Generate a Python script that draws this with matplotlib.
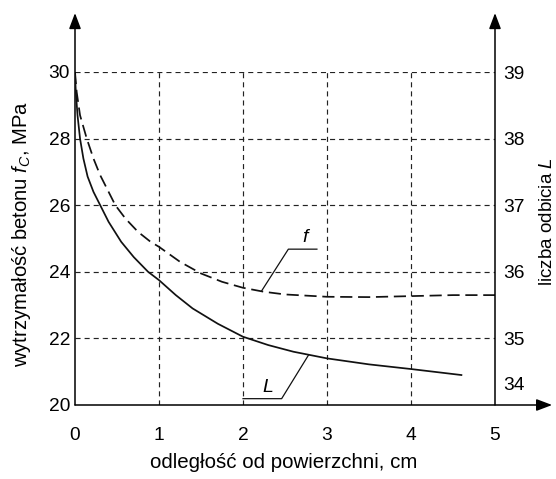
import numpy as np
import matplotlib.pyplot as plt

plt.rcParams['font.family'] = ['Liberation Sans', 'DejaVu Sans']
plt.rcParams['mathtext.fontset'] = 'custom'
plt.rcParams['mathtext.rm'] = 'Liberation Sans'
plt.rcParams['mathtext.it'] = 'Liberation Sans:italic'

# krzywa f - wytrzymałość betonu [MPa] (oś lewa)
x_f = [0.0, 0.02, 0.06, 0.14, 0.22, 0.3, 0.4, 0.48, 0.6, 0.75, 0.9, 1.0, 1.25, 1.5,
       1.75, 2.0, 2.25, 2.5, 3.0, 3.5, 4.0, 4.5, 5.0]
f_val = [30.0, 29.4, 28.7, 28.0, 27.4, 26.9, 26.4, 26.0, 25.6, 25.2, 24.9, 24.75, 24.3, 23.95,
         23.7, 23.52, 23.4, 23.32, 23.25, 23.24, 23.27, 23.3, 23.3]

# krzywa L - liczba odbicia (oś prawa)
x_L = [0.0, 0.01, 0.03, 0.06, 0.1, 0.15, 0.22, 0.3, 0.4, 0.55, 0.7, 0.87, 1.0, 1.2, 1.4,
       1.7, 2.0, 2.3, 2.6, 3.0, 3.5, 4.0, 4.6]
L_val = [38.95, 38.7, 38.35, 38.0, 37.7, 37.43, 37.2, 37.0, 36.75, 36.45, 36.22, 36.0, 35.875,
         35.65, 35.45, 35.22, 35.025, 34.9, 34.8, 34.7, 34.61, 34.54, 34.45]

x_ticks = [0, 1, 2, 3, 4, 5]
f_ticks = [20, 22, 24, 26, 28, 30]
L_ticks = [34.33, 35, 36, 37, 38, 39]
L_tick_labels = ['34', '35', '36', '37', '38', '39']

fig = plt.figure(figsize=(5.56, 4.79), dpi=100)
ax = fig.add_axes([75/556, 74/479, 420/556, 333/479])
ax.set_xlim(0, 5)
ax.set_ylim(20, 30)
ax2 = ax.twinx()
ax2.set_ylim(34, 39)

for a in (ax, ax2):
    for s in a.spines.values():
        s.set_visible(False)

# siatka
grid_kw = dict(color='#222222', linewidth=0.85, linestyle=(0, (4.3, 3.4)))
for yv in f_ticks[1:]:
    ax.plot([0, 5], [yv, yv], **grid_kw)
for xv in x_ticks[1:-1]:
    ax.plot([xv, xv], [20, 30], **grid_kw)

ax.plot(x_f, f_val, color='#111111', linewidth=1.25, linestyle=(0, (7, 3.3)))
ax2.plot(x_L, L_val, color='#111111', linewidth=1.25)

# opisy krzywych
ax.plot([2.22, 2.54, 2.88], [23.42, 24.68, 24.68], color='#111111', linewidth=0.9)
ax.text(2.74, 25.02, 'f', style='italic', fontsize=14, ha='center', va='center')
ax.plot([2.0, 2.46, 2.78], [20.19, 20.19, 21.5], color='#111111', linewidth=0.9)
ax.text(2.29, 20.52, 'L', style='italic', fontsize=14, ha='center', va='center')

# osie ze strzałkami
arr = dict(arrowstyle='-|>,head_length=0.95,head_width=0.36', color='black',
           linewidth=1.1, mutation_scale=10, shrinkA=0, shrinkB=0)
ax.annotate('', xy=(0, 1.177), xytext=(0, 0), xycoords='axes fraction', arrowprops=arr)
ax.annotate('', xy=(1, 1.177), xytext=(1, 0), xycoords='axes fraction', arrowprops=arr)
ax.annotate('', xy=(1.136, 0), xytext=(0, 0), xycoords='axes fraction', arrowprops=arr)

ax.set_xticks(x_ticks)
ax.set_yticks(f_ticks)
ax.tick_params(axis='x', length=0, pad=16, labelsize=13.8)
ax.tick_params(axis='y', length=0, pad=3.6, labelsize=13.8)
ax2.set_yticks(L_ticks)
ax2.set_yticklabels(L_tick_labels)
ax2.tick_params(axis='y', length=0, pad=5.8, labelsize=13.8)

fig.text(22/556, 1 - 234/479, r'wytrzymałość betonu $f_C$, MPa', rotation=90,
         ha='center', va='center', fontsize=14.6)
fig.text(548/556, 1 - 222/479, r'liczba odbicia $L$', rotation=90,
         ha='center', va='center', fontsize=13.5)
fig.text(284/556, 1 - 463/479, 'odległość od powierzchni, cm',
         ha='center', va='center', fontsize=14.8)

fig.savefig('out.png', dpi=100)
